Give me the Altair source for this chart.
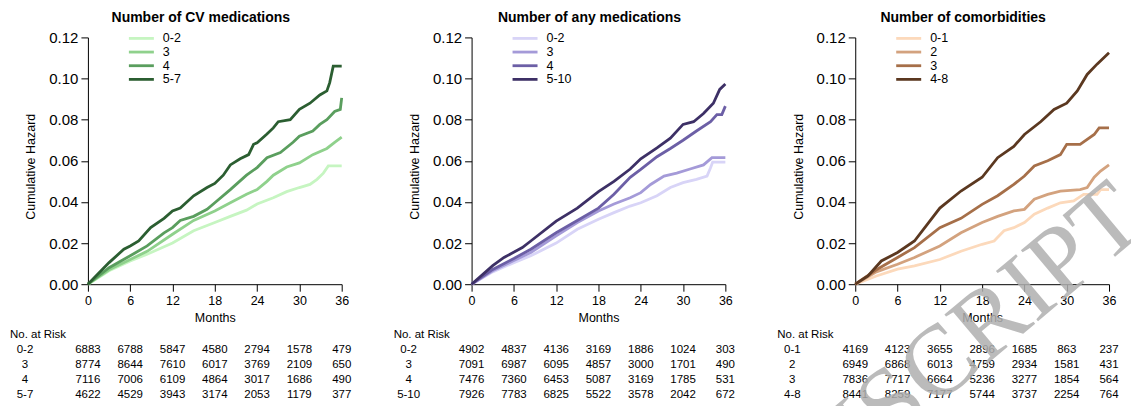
import altair as alt
import pandas as pd

FONT = "Liberation Sans"
MONTH_TICKS = [0, 6, 12, 18, 24, 30, 36]
HAZARD_TICKS = [0.0, 0.02, 0.04, 0.06, 0.08, 0.10, 0.12]

# ---------------- Panel 1: Number of CV medications ----------------
cv_title = "Number of CV medications"
cv_groups = ["0-2", "3", "4", "5-7"]
cv_colors = ["#c6f5c1", "#8fd18c", "#5a9e5e", "#2b5e31"]

cv_02_t = [0, 3, 6, 8.4, 12, 15, 18, 20.2, 22.5, 24, 26.3, 28.2, 30, 31.5, 32.5, 33.4, 34.1, 36]
cv_02_v = [0, 0.0065, 0.0113, 0.0146, 0.020, 0.026, 0.030, 0.033, 0.036, 0.039, 0.042, 0.045, 0.047, 0.0485, 0.051, 0.054, 0.0575, 0.0575]
cv_3_t = [0, 3, 6, 8.4, 12, 15, 18, 20.2, 22.5, 24, 25.4, 26.3, 28.2, 30, 31.9, 33.9, 35, 36]
cv_3_v = [0, 0.007, 0.012, 0.016, 0.0243, 0.031, 0.0356, 0.0396, 0.0437, 0.046, 0.050, 0.053, 0.057, 0.059, 0.063, 0.066, 0.069, 0.0715]
cv_4_t = [0, 3, 6, 8.4, 10.8, 12, 13.1, 15, 16.9, 18, 20.2, 22.5, 24, 25.4, 27.3, 29.1, 30, 31.9, 32.9, 33.9, 35, 35.8, 36]
cv_4_v = [0, 0.008, 0.0138, 0.0186, 0.025, 0.0275, 0.031, 0.033, 0.0364, 0.0396, 0.046, 0.053, 0.0567, 0.0615, 0.064, 0.069, 0.072, 0.0745, 0.0777, 0.080, 0.084, 0.085, 0.0906]
cv_57_t = [0, 3, 5.1, 6, 7.2, 8.9, 10.8, 12, 13.1, 15, 16.9, 18, 19.2, 20.2, 21.6, 22.8, 23.5, 24, 25.4, 26.3, 27, 28.7, 30, 31.5, 32.9, 33.9, 34.3, 34.8, 36]
cv_57_v = [0, 0.0105, 0.017, 0.0186, 0.021, 0.0275, 0.032, 0.0356, 0.037, 0.043, 0.047, 0.049, 0.053, 0.058, 0.061, 0.063, 0.068, 0.0688, 0.073, 0.076, 0.079, 0.080, 0.085, 0.088, 0.092, 0.094, 0.098, 0.106, 0.106]

cv_risk_02 = [6883, 6788, 5847, 4580, 2794, 1578, 479]
cv_risk_3 = [8774, 8644, 7610, 6017, 3769, 2109, 650]
cv_risk_4 = [7116, 7006, 6109, 4864, 3017, 1686, 490]
cv_risk_57 = [4622, 4529, 3943, 3174, 2053, 1179, 377]

# ---------------- Panel 2: Number of any medications ----------------
any_title = "Number of any medications"
any_groups = ["0-2", "3", "4", "5-10"]
any_colors = ["#d8d4f7", "#a49ad8", "#6c5fa6", "#3d3066"]

any_02_t = [0, 3, 6, 8.4, 12, 15, 18, 20.2, 22.5, 24, 26.3, 28.2, 30, 31.9, 33.4, 33.9, 34.2, 36]
any_02_v = [0, 0.006, 0.0105, 0.0138, 0.020, 0.0267, 0.0316, 0.0348, 0.038, 0.0396, 0.043, 0.047, 0.0494, 0.051, 0.0526, 0.0566, 0.0594, 0.0594]
any_3_t = [0, 3, 6, 8.4, 12, 15, 18, 20.2, 22.5, 24, 25.4, 27.3, 29.1, 31, 32.9, 34.1, 36]
any_3_v = [0, 0.0065, 0.0115, 0.0154, 0.0235, 0.030, 0.0356, 0.039, 0.042, 0.0445, 0.0485, 0.0526, 0.054, 0.056, 0.058, 0.0615, 0.0615]
any_4_t = [0, 3, 6, 8.4, 12, 15, 18, 20.2, 22.5, 24, 26.3, 28.2, 30, 31.9, 33.9, 34.8, 35.5, 36]
any_4_v = [0, 0.0072, 0.0125, 0.017, 0.025, 0.031, 0.037, 0.0437, 0.052, 0.0558, 0.062, 0.066, 0.070, 0.0745, 0.079, 0.0825, 0.0825, 0.0866]
any_510_t = [0, 3, 4.6, 7.2, 8.4, 12, 15, 18, 20.2, 22.5, 24, 26.3, 28.2, 30, 31.5, 32.9, 34.3, 35.2, 36]
any_510_v = [0, 0.009, 0.013, 0.0178, 0.021, 0.0307, 0.037, 0.045, 0.050, 0.056, 0.061, 0.0663, 0.071, 0.0777, 0.079, 0.083, 0.088, 0.0947, 0.0974]

any_risk_02 = [4902, 4837, 4136, 3169, 1886, 1024, 303]
any_risk_3 = [7091, 6987, 6095, 4857, 3000, 1701, 490]
any_risk_4 = [7476, 7360, 6453, 5087, 3169, 1785, 531]
any_risk_510 = [7926, 7783, 6825, 5522, 3578, 2042, 672]

# ---------------- Panel 3: Number of comorbidities ----------------
com_title = "Number of comorbidities"
com_groups = ["0-1", "2", "3", "4-8"]
com_colors = ["#fcd9bb", "#d3a27e", "#a66f49", "#5b3820"]

com_01_t = [0, 3, 6, 8.4, 12, 15, 18, 19.7, 21.1, 22.5, 24, 25.4, 27.3, 29.1, 31, 32.4, 34.3, 34.8, 36]
com_01_v = [0, 0.004, 0.0073, 0.0089, 0.012, 0.016, 0.0194, 0.021, 0.026, 0.0275, 0.030, 0.034, 0.037, 0.0396, 0.0405, 0.0437, 0.0437, 0.046, 0.046]
com_2_t = [0, 3, 6, 8.4, 12, 15, 18, 20.2, 22.5, 24, 25.4, 27.3, 29.1, 31.9, 32.9, 33.9, 34.8, 36]
com_2_v = [0, 0.006, 0.0097, 0.013, 0.0186, 0.025, 0.030, 0.033, 0.0356, 0.0364, 0.0413, 0.0437, 0.0453, 0.046, 0.047, 0.052, 0.055, 0.058]
com_3_t = [0, 3, 6, 8.4, 12, 15, 18, 20.2, 22.5, 24, 25.4, 27.3, 29.1, 30, 31.9, 33.9, 34.6, 36]
com_3_v = [0, 0.007, 0.013, 0.0178, 0.0275, 0.032, 0.0388, 0.043, 0.0485, 0.0526, 0.0575, 0.060, 0.063, 0.068, 0.068, 0.0728, 0.076, 0.076]
com_48_t = [0, 1.8, 3.7, 6, 8.4, 12, 15, 18, 20.2, 22.5, 24, 26.3, 28.2, 30, 31.5, 32.9, 34.3, 36]
com_48_v = [0, 0.004, 0.0113, 0.0154, 0.021, 0.0370, 0.0453, 0.052, 0.0615, 0.067, 0.0728, 0.079, 0.085, 0.088, 0.094, 0.102, 0.107, 0.1125]

com_risk_01 = [4169, 4123, 3655, 2896, 1685, 863, 237]
com_risk_2 = [6949, 6868, 6013, 4759, 2934, 1581, 431]
com_risk_3 = [7836, 7717, 6664, 5236, 3277, 1854, 564]
com_risk_48 = [8441, 8259, 7177, 5744, 3737, 2254, 764]

watermark_text = "ACCEPTED MANUSCRIPT"

PLOT_W = 254
PLOT_H = 247


def build_panel(title, title_dx, groups, colors, series, risks, watermark=None):
    line_rows = []
    for order, (g, (t, v)) in enumerate(zip(groups, series)):
        for ti, vi in zip(t, v):
            line_rows.append({"group": g, "order": order, "month": ti, "hazard": vi})
    lines_df = pd.DataFrame(line_rows)

    risk_rows = []
    for g, counts in zip(groups, risks):
        for m, n in zip(MONTH_TICKS, counts):
            risk_rows.append({"group": g, "month": m, "n": n})
    risk_df = pd.DataFrame(risk_rows)

    legend_df = pd.DataFrame({
        "group": groups,
        "label": [("\u00a0" + g) if len(g) == 1 else g for g in groups],
    })

    color = alt.Color("group:N", scale=alt.Scale(domain=groups, range=colors), legend=None)
    x_scale = alt.Scale(domain=[0, 36], nice=False, zero=False)

    lines = alt.Chart(lines_df).mark_line(strokeWidth=2.8, strokeJoin="miter", clip=False).encode(
        x=alt.X("month:Q", scale=x_scale,
                axis=alt.Axis(values=MONTH_TICKS, title="Months", grid=False,
                              domainColor="#000000", tickColor="#000000", tickSize=7,
                              labelFontSize=12.5, labelColor="#000000", labelPadding=3,
                              titleFontSize=12.5, titleFontWeight="normal", titleColor="#000000",
                              titlePadding=5, labelFlush=False)),
        y=alt.Y("hazard:Q", scale=alt.Scale(domain=[0, 0.12], nice=False),
                axis=alt.Axis(values=HAZARD_TICKS, format=".2f", title="Cumulative Hazard", grid=False,
                              domainColor="#000000", tickColor="#000000", tickSize=7,
                              labelFontSize=15, labelColor="#000000", labelPadding=3,
                              titleFontSize=12.5, titleFontWeight="normal", titleColor="#000000",
                              titleX=-53, titleY=129, titleAngle=270, titleAlign="center",
                              titleBaseline="alphabetic", labelFlush=False)),
        color=color,
        order=alt.Order("order:Q"),
        detail="group:N",
    )

    leg_y = alt.Y("group:N", scale=alt.Scale(type="point", domain=groups, range=[1, 42], padding=0), axis=None)
    legend_lines = alt.Chart(legend_df).mark_rule(strokeWidth=2.8).encode(
        x=alt.value(41), x2=alt.value(66), y=leg_y, color=color,
    )
    legend_text = alt.Chart(legend_df).mark_text(align="left", baseline="middle", fontSize=12.5, color="#000000").encode(
        x=alt.value(75), y=leg_y, text="label:N",
    )

    risk_y = alt.Y("group:N", scale=alt.Scale(type="point", domain=groups, range=[313, 358], padding=0), axis=None)
    risk_numbers = alt.Chart(risk_df).mark_text(align="center", baseline="middle", fontSize=11.5, color="#000000").encode(
        x=alt.X("month:Q", scale=x_scale), y=risk_y, text=alt.Text("n:Q", format="d"),
    )
    risk_labels = alt.Chart(legend_df).mark_text(align="center", baseline="middle", fontSize=11.5, color="#000000").encode(
        x=alt.value(-63), y=risk_y, text="group:N",
    )
    risk_header = alt.Chart(pd.DataFrame({"label": ["No. at Risk"]})).mark_text(
        align="left", baseline="middle", fontSize=11.5, color="#000000").encode(
        x=alt.value(-78), y=alt.value(298), text="label:N",
    )
    title_mark = alt.Chart(pd.DataFrame({"label": [title]})).mark_text(
        align="center", baseline="middle", fontSize=14, fontWeight="bold", color="#000000").encode(
        x=alt.value(PLOT_W / 2 + title_dx), y=alt.value(-19), text="label:N",
    )

    layers = [lines, legend_lines, legend_text, risk_numbers, risk_labels, risk_header, title_mark]
    if watermark is not None:
        wm = alt.Chart(pd.DataFrame({"label": [watermark]})).mark_text(
            align="right", baseline="alphabetic", angle=320, font="Liberation Serif",
            fontSize=100, color="#b0b0b0", opacity=0.85).encode(
            x=alt.value(295), y=alt.value(190), text="label:N",
        )
        layers.append(wm)

    return alt.layer(*layers).resolve_scale(y="independent").properties(
        width=PLOT_W, height=PLOT_H,
    )


p1 = build_panel(cv_title, -14, cv_groups, cv_colors,
                 [(cv_02_t, cv_02_v), (cv_3_t, cv_3_v), (cv_4_t, cv_4_v), (cv_57_t, cv_57_v)],
                 [cv_risk_02, cv_risk_3, cv_risk_4, cv_risk_57])
p2 = build_panel(any_title, -9, any_groups, any_colors,
                 [(any_02_t, any_02_v), (any_3_t, any_3_v), (any_4_t, any_4_v), (any_510_t, any_510_v)],
                 [any_risk_02, any_risk_3, any_risk_4, any_risk_510])
p3 = build_panel(com_title, -19, com_groups, com_colors,
                 [(com_01_t, com_01_v), (com_2_t, com_2_v), (com_3_t, com_3_v), (com_48_t, com_48_v)],
                 [com_risk_01, com_risk_2, com_risk_3, com_risk_48],
                 watermark=watermark_text)

chart = alt.hconcat(p1, p2, p3, spacing=130, bounds="flush").resolve_scale(
    color="independent", x="independent", y="independent"
).properties(
    padding={"left": 10, "top": 11, "right": -32, "bottom": 0},
    background="white",
).configure(font=FONT).configure_view(stroke=None)

chart.save("out.html", embed_options={"renderer": "svg", "actions": False})
